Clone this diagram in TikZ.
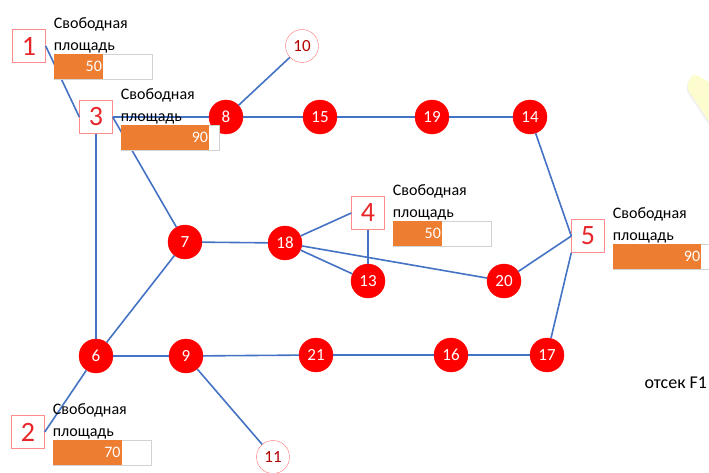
\documentclass[tikz,border=0pt]{standalone}
\usepackage{fontspec}
\setmainfont{Carlito}
\usepackage{tikz}
\usetikzlibrary{positioning}
\definecolor{linkblue}{HTML}{4472C4}
\definecolor{barorange}{HTML}{ED7D31}
\definecolor{zonered}{HTML}{E8262A}
\definecolor{notepale}{HTML}{FCFCCF}
\newcommand{\freearea}[2]{%
  \node[freebar,below right=8pt and 8pt of #1.east] (#1bar) {};
  \node[freefill,minimum width=#2*0.98pt,right=0pt of #1bar.west] (#1fill) {};
  \node[anchor=east,text=white,inner sep=1pt] (#1val) at (#1fill.east) {#2};
  \node[above right=0pt and -1pt of #1bar.north west,align=left,inner sep=1pt] (#1txt) {Свободная\\площадь};
}

\begin{document}
\begin{tikzpicture}[x=1pt,y=-1pt,font=\fontsize{16}{22}\selectfont]
  \tikzstyle{vtx} = [circle,fill=red,draw=red,text=white,minimum size=34pt,inner sep=0pt,font=\fontsize{17}{17}\selectfont];
  \tikzstyle{hollow} = [circle,fill=white,draw=red!55,text=red!70!black,minimum size=33pt,inner sep=0pt,font=\fontsize{17}{17}\selectfont];
  \tikzstyle{zone} = [rectangle,draw=red!45,fill=white,text=zonered,minimum size=33pt,inner sep=0pt,font=\fontsize{28}{28}\selectfont];
  \tikzstyle{link} = [draw=linkblue,line width=1.6pt];
  \tikzset{freebar/.style={rectangle,draw=gray!35,fill=white,minimum width=98pt,minimum height=25pt,inner sep=0pt},
    freefill/.style={rectangle,fill=barorange,minimum height=25pt,inner sep=0pt}};
  \useasboundingbox (0,0) rectangle (709,473);
  \clip (0,0) rectangle (709,473);
  % pale note cut by the right edge
  \fill[gray!12,rounded corners=5pt] (715,88) -- (692,75) -- (685,89) -- (715,134) -- cycle;
  \fill[notepale,rounded corners=5pt] (716,86) -- (693,73) -- (686,87) -- (716,132) -- cycle;
  % junctions
  \node[vtx] (n8) at (226,117) {8};
  \node[vtx] (n15) at (320,117) {15};
  \node[vtx] (n19) at (432,117) {19};
  \node[vtx] (n14) at (530,117) {14};
  \node[hollow] (n10) at (302,46) {10};
  \node[vtx] (n7) at (185,242) {7};
  \node[vtx] (n18) at (285,243) {18};
  \node[vtx] (n13) at (368,281) {13};
  \node[vtx] (n20) at (504,281) {20};
  \node[vtx] (n6) at (96,356) {6};
  \node[vtx] (n9) at (186,356) {9};
  \node[vtx] (n21) at (316,355) {21};
  \node[vtx] (n16) at (451,355) {16};
  \node[vtx] (n17) at (547,355) {17};
  \node[hollow] (n11) at (273,457) {11};
  % zones
  \node[zone] (b1) at (29,46) {1};
  \node[zone] (b2) at (28,432) {2};
  \node[zone] (b3) at (96,117) {3};
  \node[zone] (b4) at (368,213) {4};
  \node[zone] (b5) at (588,236) {5};
  % links
  \draw[link] (b1.east) -- (b3.west);
  \draw[link] (b3.east) -- (n8);
  \draw[link] (b3.east) -- (n7);
  \draw[link] (b3) -- (n6);
  \draw[link] (n8) -- (n10);
  \draw[link] (n8) -- (n15) -- (n19) -- (n14);
  \draw[link] (n14) -- (b5.west);
  \draw[link] (n20) -- (b5.west);
  \draw[link] (b5.south west) -- (n17);
  \draw[link] (n7) -- (n18);
  \draw[link] (n7) -- (n6);
  \draw[link] (n18) -- (b4.west);
  \draw[link] (n18) -- (n13);
  \draw[link] (n18) -- (n20);
  \draw[link] (b4) -- (n13);
  \draw[link] (n6) -- (n9) -- (n21) -- (n16) -- (n17);
  \draw[link] (n9) -- (n11);
  \draw[link] (n6) -- (b2.east);
  % free area of each zone
  \freearea{b1}{50}
  \freearea{b2}{70}
  \freearea{b3}{90}
  \freearea{b4}{50}
  \freearea{b5}{90}
  \node[anchor=west,font=\fontsize{18}{18}\selectfont] (bay) at (641,383) {отсек F1};
\end{tikzpicture}
\end{document}
